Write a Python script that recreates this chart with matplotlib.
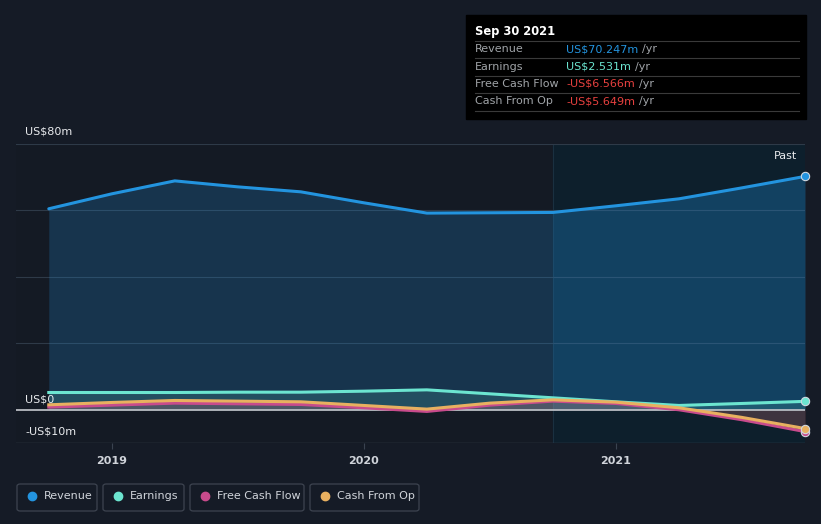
import matplotlib.pyplot as plt
from matplotlib.patches import FancyBboxPatch, Rectangle

# quarterly trailing-twelve-month values, US$ millions
dates = [2018.75, 2019.0, 2019.25, 2019.5, 2019.75, 2020.0, 2020.25,
         2020.5, 2020.75, 2021.0, 2021.25, 2021.5, 2021.75]
revenue = [60.5, 65.0, 68.9, 67.1, 65.6, 62.3, 59.2, 59.3, 59.4, 61.4, 63.5, 66.8, 70.247]
earnings = [5.2, 5.2, 5.2, 5.3, 5.3, 5.6, 6.0, 4.8, 3.6, 2.4, 1.3, 1.9, 2.531]
cash_from_op = [1.5, 2.2, 2.8, 2.6, 2.4, 1.3, 0.2, 2.0, 3.0, 2.3, 0.6, -2.3, -5.649]
free_cash_flow = [0.8, 1.4, 2.0, 1.8, 1.6, 0.6, -0.5, 1.4, 2.6, 1.9, 0.0, -3.0, -6.566]

year_ticks = [2019, 2020, 2021]
past_start = 2020.75

BG = '#151b26'
C_REV = '#2394df'
C_EARN = '#6ce5d0'
C_FCF = '#c84b8c'
C_CFO = '#e8b060'

W, H = 821, 524
fig = plt.figure(figsize=(W / 100, H / 100), dpi=100, facecolor=BG)
ax = fig.add_axes([16 / W, 1 - 443 / H, (805 - 16) / W, (443 - 144) / H])
ax.set_facecolor('#141a24')

x_end = 2021.75
ax.set_xlim(2018.62, x_end)
ax.set_ylim(-10, 80)

ax.axvspan(past_start, x_end, color='#0d1f2c', zorder=0)
ax.axvline(past_start, color='#1a3040', lw=0.8, zorder=0.5)

for y in [20, 40, 60, 80]:
    ax.axhline(y, color='#2e3a48', lw=0.8, zorder=1)
ax.axhline(-10, color='#3a4350', lw=1.0, zorder=1)

past = [d >= past_start for d in dates]
ax.fill_between(dates, revenue, 0, color=C_REV, alpha=0.22, lw=0, zorder=2)
ax.fill_between(dates, revenue, 0, where=past, color=C_REV, alpha=0.1, lw=0, zorder=2)
ax.fill_between(dates, earnings, 0, color=C_EARN, alpha=0.15, lw=0, zorder=2)
ax.fill_between(dates, cash_from_op, 0, color=C_CFO, alpha=0.12, lw=0, zorder=2)
ax.fill_between(dates, free_cash_flow, 0, color=C_FCF, alpha=0.15, lw=0, zorder=2)

ax.axhline(0, color='#b8bcc2', lw=1.3, zorder=3)

ax.plot(dates, revenue, color=C_REV, lw=2.2, zorder=4, solid_capstyle='round')
ax.plot(dates, earnings, color=C_EARN, lw=2.2, zorder=4)
ax.plot(dates, free_cash_flow, color=C_FCF, lw=2.2, zorder=4)
ax.plot(dates, cash_from_op, color=C_CFO, lw=2.2, zorder=5)

for series, col in [(revenue, C_REV), (earnings, C_EARN),
                    (free_cash_flow, C_FCF), (cash_from_op, C_CFO)]:
    ax.plot(dates[-1], series[-1], 'o', ms=6, color=col, mec='#d0d8e0',
            mew=0.8, zorder=6, clip_on=False)

for s in ax.spines.values():
    s.set_visible(False)
ax.set_yticks([])
ax.set_xticks(year_ticks)
ax.set_xticklabels([str(y) for y in year_ticks], color='#d0d4da',
                   fontsize=8, fontweight='bold')
ax.tick_params(axis='x', length=4, color='#3a4350', pad=5)

ylab = dict(color='#e8eaed', fontsize=8, ha='left', va='center',
            transform=fig.transFigure)
fig.text(25 / W, 1 - 132 / H, 'US$80m', **ylab)
fig.text(25 / W, 1 - 399 / H, 'US$0', **ylab)
fig.text(25 / W, 1 - 432 / H, '-US$10m', **ylab)
fig.text(797 / W, 1 - 156 / H, 'Past', color='#e8eaed', fontsize=8,
         ha='right', va='center')

# tooltip box
fig.patches.append(Rectangle((466 / W, 1 - 119 / H), 340 / W, 104 / H,
                             transform=fig.transFigure, color='#000000', zorder=10))
fig.text(475 / W, 1 - 31 / H, 'Sep 30 2021', color='#ffffff', fontsize=8.3,
         fontweight='bold', va='center', zorder=11)
rows = [('Revenue', 'US$70.247m', C_REV),
        ('Earnings', 'US$2.531m', C_EARN),
        ('Free Cash Flow', '-US$6.566m', '#e8413f'),
        ('Cash From Op', '-US$5.649m', '#e8413f')]
for i, (name, val, col) in enumerate(rows):
    yc = 49 + i * 17.5
    line_y = 1 - (yc - 8.5) / H
    fig.add_artist(plt.Line2D([475 / W, 799 / W], [line_y, line_y],
                              color='#3a3a3a', lw=0.8, zorder=11))
    fig.text(475 / W, 1 - yc / H, name, color='#a0a4a8', fontsize=8,
             va='center', zorder=11)
    t = fig.text(566 / W, 1 - yc / H, val, color=col, fontsize=8,
                 va='center', zorder=11)
    fig.canvas.draw()
    bb = t.get_window_extent()
    fig.text(bb.x1 / W + 4 / W, 1 - yc / H, '/yr', color='#a0a4a8',
             fontsize=8, va='center', zorder=11)
fig.add_artist(plt.Line2D([475 / W, 799 / W], [1 - 111 / H, 1 - 111 / H],
                          color='#3a3a3a', lw=0.8, zorder=11))

# legend buttons
legend = [('Revenue', C_REV, 17, 97), ('Earnings', C_EARN, 103, 184),
          ('Free Cash Flow', C_FCF, 190, 304), ('Cash From Op', C_CFO, 310, 419)]
for name, col, x0, x1 in legend:
    fig.patches.append(FancyBboxPatch((x0 / W, 1 - 511 / H), (x1 - x0) / W, 27 / H,
                                      boxstyle='round,pad=0,rounding_size=0.004',
                                      transform=fig.transFigure, fc='none',
                                      ec='#3d4450', lw=0.9))
    fig.add_artist(plt.Line2D([(x0 + 15) / W], [1 - 496 / H], marker='o', ms=6,
                              color=col, transform=fig.transFigure))
    fig.text((x0 + 27) / W, 1 - 496 / H, name, color='#d0d4da', fontsize=8,
             va='center')

fig.savefig('out.png', dpi=100, facecolor=BG)
